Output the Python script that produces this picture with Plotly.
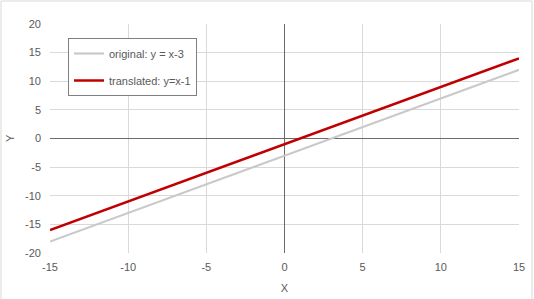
import plotly.graph_objects as go

x_vals = [-15, -10, -5, 0, 5, 10, 15]
original = [-18, -13, -8, -3, 2, 7, 12]
translated = [-16, -11, -6, -1, 4, 9, 14]
x_ticks = [-15, -10, -5, 0, 5, 10, 15]
x_tick_labels = ["-15", "-10", "-5", "0", "5", "10", "15"]
y_ticks = [-20, -15, -10, -5, 0, 5, 10, 15, 20]
y_tick_labels = ["-20", "-15", "-10", "-5", "0", "5", "10", "15", "20"]

W, H = 534, 299
L, R, T, B = 50, 15, 24, 46
pw, ph = W - L - R, H - T - B

def px(x):
    return (x - L) / pw

def py(y):
    return (H - B - y) / ph

fig = go.Figure()
fig.add_trace(go.Scatter(x=x_vals, y=original, mode="lines", name="original: y = x-3",
                         line=dict(color="#c9c9c9", width=2.2), legendgroup="a"))
fig.add_trace(go.Scatter(x=x_vals, y=translated, mode="lines", name="translated: y=x-1",
                         line=dict(color="#c00000", width=2.5), legendgroup="b"))

font = dict(family="Liberation Sans, Arial, sans-serif", size=11, color="#595959")

fig.update_layout(
    width=W, height=H,
    margin=dict(l=L, r=R, t=T, b=B, autoexpand=False),
    paper_bgcolor="white", plot_bgcolor="white",
    font=font,
    showlegend=True,
    legend=dict(x=px(68), y=py(38), xanchor="left", yanchor="top",
                bordercolor="#7f7f7f", borderwidth=1, bgcolor="white",
                font=font, tracegroupgap=8, traceorder="grouped"),
    xaxis=dict(range=[-15, 15], tickvals=x_ticks, ticktext=x_tick_labels, showgrid=True,
               gridcolor="#d9d9d9", gridwidth=1, zeroline=True, zerolinecolor="#6b6b6b",
               zerolinewidth=1, showline=False, ticks="", automargin=False,
               ticklabelstandoff=6, title=dict(text="X", standoff=12, font=font)),
    yaxis=dict(range=[-20, 20], tickvals=y_ticks, ticktext=y_tick_labels, showgrid=True,
               gridcolor="#d9d9d9", gridwidth=1, zeroline=True, zerolinecolor="#6b6b6b",
               zerolinewidth=1, showline=False, ticks="", automargin=False,
               ticklabelstandoff=8),
    annotations=[dict(text="Y", xref="paper", yref="paper", x=px(10), y=py(138),
                      xanchor="center", yanchor="middle", textangle=-90,
                      showarrow=False, font=font)],
    shapes=[dict(type="rect", xref="paper", yref="paper",
                 x0=px(1), x1=px(532), y0=py(305), y1=py(1),
                 line=dict(color="#d9d9d9", width=1), layer="below")],
)

fig.write_html("out.html")
